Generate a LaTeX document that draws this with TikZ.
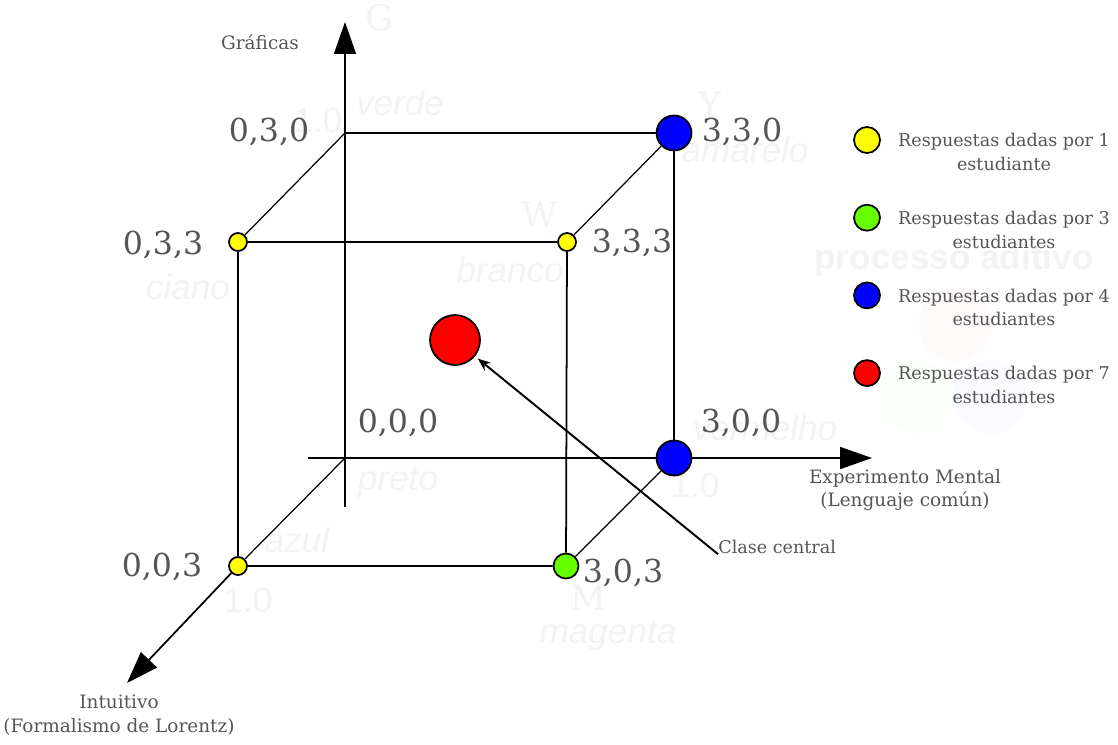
\documentclass[tikz,border=0pt]{standalone}
\usepackage{fontspec}
\setmainfont{DejaVu Serif}
\newfontfamily\ghostfont{Liberation Sans}
\usepackage{tikz}
\usetikzlibrary{arrows.meta,positioning}

\definecolor{labelgray}{HTML}{555555}
\definecolor{ghost}{HTML}{F3F3F3}
\definecolor{dotyellow}{HTML}{FFFF00}
\definecolor{dotgreen}{HTML}{66FF00}
\definecolor{dotblue}{HTML}{0000FF}
\definecolor{dotred}{HTML}{FF0000}

\begin{document}
\begin{tikzpicture}[
        x=0.02cm,
        y=-0.02cm,
        axis/.style={line width=1pt, -{Triangle[length=0.64cm, width=0.44cm]}},
        edge/.style={line width=1pt},
        depth/.style={line width=0.7pt},
        dot/.style={circle, draw=black, line width=1pt, inner sep=0pt},
        corner/.style={font=\fontsize{18}{20}\selectfont, text=labelgray, inner sep=0pt},
        small/.style={font=\fontsize{10}{13.5}\selectfont, text=labelgray, align=center, inner sep=0pt},
        axislabel/.style={small, font=\fontsize{10.5}{13.5}\selectfont},
        ghostword/.style={text=ghost, inner sep=0pt, font=\ghostfont\itshape\fontsize{20}{22}\selectfont},
        ghostletter/.style={text=ghost, inner sep=0pt, font=\fontsize{20}{22}\selectfont}
    ]
        \useasboundingbox (0,0) rectangle (1118,744);

        % faint background
        \fill[red!2] (955,325) circle (37);
        \fill[green!2] (917,397) circle (37);
        \fill[blue!2] (990,397) circle (37);
        \foreach \gx/\gy/\gt [count=\k] in {400/103/verde, 745/150/amarelo, 510/270/branco,
            188/287/ciano, 398/483/preto, 297/540/azul, 765/428/vermelho, 608/636/magenta} {
            \node[ghostword] (ghost\k) at (\gx,\gy) {\gt};
        }
        \foreach \gx/\gy/\gt [count=\k] in {380/18/G, 710/105/Y, 540/215/W, 588/598/M} {
            \node[ghostletter] (mark\k) at (\gx,\gy) {\gt};
        }
        \foreach \gx/\gy [count=\k] in {318/120, 248/600, 695/485} {
            \node[ghostword, font=\ghostfont\fontsize{20}{22}\selectfont] (one\k) at (\gx,\gy) {1.0};
        }
        \node[text=ghost, inner sep=0pt, font=\ghostfont\bfseries\fontsize{20}{22}\selectfont] (additive) at (954,260) {processo aditivo};

        \coordinate (o) at (345,458);
        \coordinate (g) at (345,133);
        \coordinate (gtip) at (345,22);
        \coordinate (gfoot) at (345,507);
        \coordinate (xstart) at (308,458);
        \coordinate (xtip) at (872,458);
        \coordinate (ztip) at (127,683);

        \node[dot, fill=dotblue, minimum size=0.7cm] (p330) at (674,133) {};
        \node[dot, fill=dotblue, minimum size=0.7cm] (p300) at (674,458) {};
        \node[dot, fill=dotyellow, minimum size=0.36cm] (p033) at (238,242) {};
        \node[dot, fill=dotyellow, minimum size=0.36cm] (p333) at (567,242) {};
        \node[dot, fill=dotyellow, minimum size=0.36cm] (p003) at (238,566) {};
        \node[dot, fill=dotgreen, minimum size=0.5cm] (p303) at (566,566) {};
        \node[dot, fill=dotred, minimum size=1cm] (central) at (455,340) {};

        % axes
        \draw[axis] (gfoot) -- (gtip);
        \draw[edge] (xstart) -- (p300);
        \draw[axis] (p300) -- (xtip);
        \draw[depth] (o) -- (p003);
        \draw[axis] (p003) -- (ztip);

        % cube
        \draw[edge] (g) -- (p330) -- (p300);
        \draw[edge] (p033) -- (p333) -- (p303) -- (p003) -- (p033);
        \draw[depth] (g) -- (p033);
        \draw[depth] (p330) -- (p333);
        \draw[depth] (p300) -- (p303);

        \node[corner] (l030) at (269,132) {0,3,0};
        \node[corner] (l330) at (742,132) {3,3,0};
        \node[corner] (l033) at (163,245) {0,3,3};
        \node[corner] (l333) at (632,243) {3,3,3};
        \node[corner] (l000) at (398,423) {0,0,0};
        \node[corner] (l300) at (741,423) {3,0,0};
        \node[corner] (l003) at (162,567) {0,0,3};
        \node[corner] (l303) at (623,573) {3,0,3};

        \node[axislabel] (ylab) at (260,42) {Gráficas};
        \node[axislabel] (xlab) at (905,490) {Experimento Mental\\(Lenguaje común)};
        \node[axislabel] (zlab) at (119,715) {Intuitivo\\(Formalismo de Lorentz)};
        \node[small, anchor=west] (clase) at (718,547) {Clase central};
        \draw[line width=1.1pt, -{Stealth[length=0.26cm, width=0.2cm]}, shorten >=2pt] (clase.south west) -- (central);

        % legend
        \foreach \c/\n/\w [count=\i] in {dotyellow/1/estudiante, dotgreen/3/estudiantes,
            dotblue/4/estudiantes, dotred/7/estudiantes} {
            \node[dot, fill=\c, minimum size=0.52cm] (key\i) at (867,{140+(\i-1)*77.7}) {};
            \node[small] (keytext\i) at (1004,{152+(\i-1)*77.7}) {Respuestas dadas por \n\\\w};
        }
    \end{tikzpicture}
\end{document}
